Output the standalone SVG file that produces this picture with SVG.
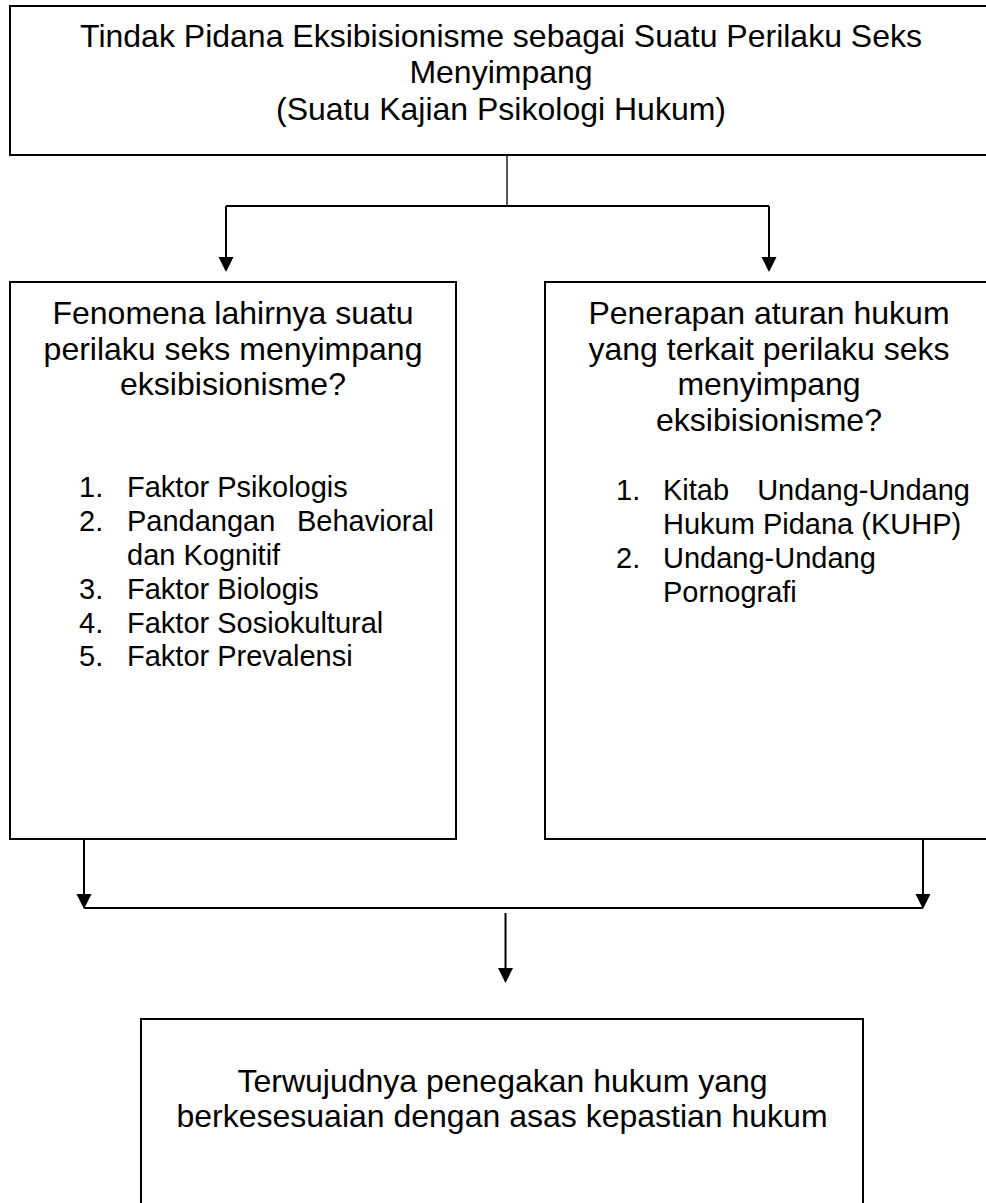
<svg xmlns="http://www.w3.org/2000/svg" width="986" height="1203" viewBox="0 0 986 1203">
<style>
.box{fill:#fff;stroke:#000;stroke-width:2}
.t{font-family:"Liberation Sans",Arial,sans-serif;fill:#000}
.h{font-size:32px;text-anchor:middle}
.l{font-size:29px}
.e{text-anchor:end}
.c{fill:none;stroke:#000;stroke-width:2}
.thin{stroke-width:1.3}
</style>
<defs>
<marker id="ah" markerUnits="userSpaceOnUse" markerWidth="16" markerHeight="16" refX="13" refY="7.5" orient="auto">
<path d="M0,0 L15,7.5 L0,15 z" fill="#000"/>
</marker>
</defs>
<g id="top">
<rect class="box" x="10" y="6" width="982" height="149"/>
<text class="t h" x="501" y="46.5">Tindak Pidana Eksibisionisme sebagai Suatu Perilaku Seks</text>
<text class="t h" x="501" y="83">Menyimpang</text>
<text class="t h" x="501" y="119.5">(Suatu Kajian Psikologi Hukum)</text>
</g>
<g id="connectors">
<line class="c thin" x1="507" y1="155" x2="507" y2="206"/>
<line class="c" x1="226" y1="206" x2="769" y2="206"/>
<line class="c" x1="226" y1="206" x2="226" y2="270" marker-end="url(#ah)"/>
<line class="c" x1="769" y1="206" x2="769" y2="270" marker-end="url(#ah)"/>
<line class="c" x1="84" y1="839" x2="84" y2="907" marker-end="url(#ah)"/>
<line class="c" x1="923" y1="839" x2="923" y2="907" marker-end="url(#ah)"/>
<line class="c" x1="84" y1="908" x2="923" y2="908"/>
<line class="c" x1="505.5" y1="913" x2="505.5" y2="981" marker-end="url(#ah)"/>
</g>
<g id="left">
<rect class="box" x="10" y="282" width="446" height="557"/>
<text class="t h" x="233" y="324">Fenomena lahirnya suatu</text>
<text class="t h" x="233" y="359.5">perilaku seks menyimpang</text>
<text class="t h" x="233" y="395">eksibisionisme?</text>
<text class="t l" x="79" y="497">1.</text>
<text class="t l" x="127" y="497">Faktor Psikologis</text>
<text class="t l" x="79" y="531">2.</text>
<text class="t l" x="127" y="531">Pandangan</text>
<text class="t l e" x="434" y="531">Behavioral</text>
<text class="t l" x="127" y="565">dan Kognitif</text>
<text class="t l" x="79" y="599">3.</text>
<text class="t l" x="127" y="599">Faktor Biologis</text>
<text class="t l" x="79" y="632.5">4.</text>
<text class="t l" x="127" y="632.5">Faktor Sosiokultural</text>
<text class="t l" x="79" y="666">5.</text>
<text class="t l" x="127" y="666">Faktor Prevalensi</text>
</g>
<g id="right">
<rect class="box" x="545" y="282" width="447" height="557"/>
<text class="t h" x="769" y="324">Penerapan aturan hukum</text>
<text class="t h" x="769" y="359.5">yang terkait perilaku seks</text>
<text class="t h" x="769" y="395">menyimpang</text>
<text class="t h" x="769" y="430.5">eksibisionisme?</text>
<text class="t l" x="616" y="500">1.</text>
<text class="t l" x="663" y="500">Kitab</text>
<text class="t l e" x="970" y="500">Undang-Undang</text>
<text class="t l" x="663" y="534">Hukum Pidana (KUHP)</text>
<text class="t l" x="616" y="568">2.</text>
<text class="t l" x="663" y="568">Undang-Undang</text>
<text class="t l" x="663" y="602">Pornografi</text>
</g>
<g id="bottom">
<rect class="box" x="141" y="1019" width="722" height="200"/>
<text class="t h" x="502.5" y="1091.5">Terwujudnya penegakan hukum yang</text>
<text class="t h" x="502" y="1126.5">berkesesuaian dengan asas kepastian hukum</text>
</g>
</svg>
